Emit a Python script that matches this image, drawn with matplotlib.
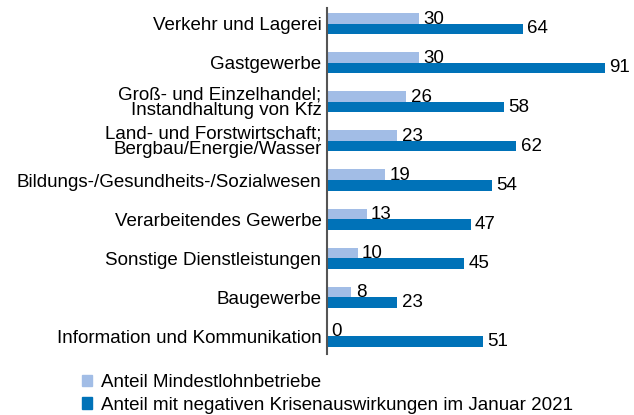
import matplotlib
matplotlib.use("Agg")
import matplotlib.pyplot as plt
import numpy as np
from matplotlib.patches import Patch

plt.rcParams['font.family'] = ['Liberation Sans', 'DejaVu Sans']

categories = [
    "Verkehr und Lagerei",
    "Gastgewerbe",
    "Groß- und Einzelhandel;\nInstandhaltung von Kfz",
    "Land- und Forstwirtschaft;\nBergbau/Energie/Wasser",
    "Bildungs-/Gesundheits-/Sozialwesen",
    "Verarbeitendes Gewerbe",
    "Sonstige Dienstleistungen",
    "Baugewerbe",
    "Information und Kommunikation",
]
mindestlohn = [30, 30, 26, 23, 19, 13, 10, 8, 0]
krise = [64, 91, 58, 62, 54, 47, 45, 23, 51]
series_names = ["Anteil Mindestlohnbetriebe",
                "Anteil mit negativen Krisenauswirkungen im Januar 2021"]

c_light = "#a2bde6"
c_dark = "#0072b8"
fs = 13.5

fig = plt.figure(figsize=(6.34, 4.15), dpi=100)
ax = fig.add_axes([327/634, 1 - 356/415, (632.5-327)/634, 352/415])

y = np.arange(len(categories))
h = 0.27
ax.barh(y - h/2, [v if v > 0 else 0.3 for v in mindestlohn], height=h, color=c_light)
ax.barh(y + h/2, krise, height=h, color=c_dark)

for yi, v in zip(y, mindestlohn):
    ax.text(v + 1.4, yi - h/2 + 0.02, str(v), va='center', ha='left', fontsize=fs)
for yi, v in zip(y, krise):
    ax.text(v + 1.4, yi + h/2 + 0.0, str(v), va='center', ha='left', fontsize=fs)

ax.set_xlim(0, 100)
ax.set_ylim(len(categories) - 0.5, -0.5)
ax.set_yticks(y)
ax.set_yticklabels(categories, fontsize=fs, linespacing=0.85)
ax.tick_params(axis='y', length=0, pad=4)
ax.set_xticks([])
for s in ['top', 'right', 'bottom']:
    ax.spines[s].set_visible(False)
ax.spines['left'].set_color('#555555')
ax.spines['left'].set_linewidth(1.5)
ax.spines['left'].set_bounds(-0.4, 8.45)

handles = [Patch(color=c_light), Patch(color=c_dark)]
fig.legend(handles, series_names, loc='upper left', bbox_to_anchor=(82/634, 1 - 374/415),
           frameon=False, fontsize=fs, handlelength=0.55, handleheight=0.55,
           handletextpad=0.45, labelspacing=0.3, borderaxespad=0, borderpad=0)

fig.savefig("out.png", dpi=100)
